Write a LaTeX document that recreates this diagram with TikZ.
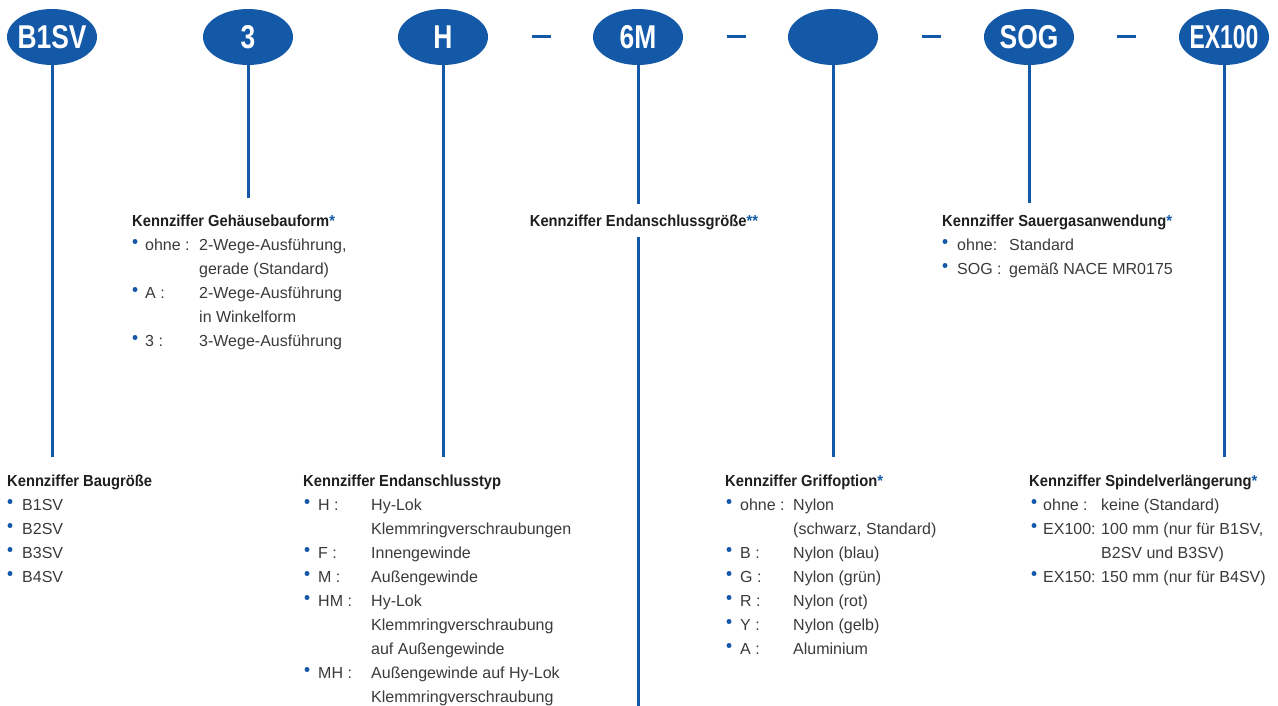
\documentclass[tikz,border=0pt]{standalone}
\usepackage{fontspec}
\setmainfont{Liberation Sans}
\newfontfamily\headfont{Liberation Sans}[FakeStretch=0.92]
\newfontfamily\codefont{Liberation Sans}[FakeStretch=0.8]
\usetikzlibrary{shapes.geometric}
\definecolor{codeblue}{HTML}{1459A8}
\definecolor{headgray}{HTML}{1E1E1E}
\definecolor{textgray}{HTML}{3A3A3A}
\newcommand{\bstar}{\textcolor{codeblue}{*}}
\newcommand{\ctext}[1]{\makebox[0pt]{#1}}

\tikzset{
  code/.style={ellipse,fill=codeblue,minimum width=90pt,minimum height=56pt,inner sep=0pt,
    text=white,font=\codefont\bfseries\fontsize{33}{33}\selectfont},
  stem/.style={codeblue,line width=3pt},
  sep/.style={codeblue,line width=3pt},
  head/.style={anchor=base west,inner sep=0pt,text=headgray,
    font=\headfont\bfseries\fontsize{16}{19}\selectfont},
  entry/.style={anchor=base west,inner sep=0pt,text=textgray,font=\fontsize{16}{19}\selectfont},
  dot/.style={circle,fill=codeblue,inner sep=0pt,minimum size=5pt},
}

\begin{document}
\begin{tikzpicture}[x=1pt,y=-1pt]
  \useasboundingbox (0,0) rectangle (1278,706);
  % code fields
  \node[code] (bau)  at (52,37)   {\ctext{B1SV}};
  \node[code] (form) at (248,37)  {\ctext{3}};
  \node[code] (typ)  at (443,37)  {\ctext{H}};
  \node[code] (size) at (638,37)  {\ctext{6M}};
  \node[code] (grip) at (833,37)  {};
  \node[code] (sog)  at (1029,37) {\ctext{SOG}};
  \node[code] (ext)  at (1224,37) {\ctext{\scalebox{0.87}[1]{EX100}}};
  \foreach \x in {541,736,931,1126}
    \draw[sep] (\x-9.5,37) -- (\x+9.5,37);

  % stems
  \coordinate (bauend)  at (52,457);
  \coordinate (formend) at (248,198);
  \coordinate (typend)  at (443,457);
  \coordinate (gripend) at (833,457);
  \coordinate (sogend)  at (1029,203);
  \coordinate (extend)  at (1224,457);
  \coordinate (sizeend) at (638,706);
  \draw[stem] (bau.south) -- (bauend);
  \draw[stem] (form.south) -- (formend);
  \draw[stem] (typ.south) -- (typend);
  \draw[stem] (grip.south) -- (gripend);
  \draw[stem] (sog.south) -- (sogend);
  \draw[stem] (ext.south) -- (extend);

  % upper blocks
  \node[head] (formhead) at (132,226) {Kennziffer Gehäusebauform\bstar};
  \foreach \y/\k/\v in {250/{ohne :}/{2-Wege-Ausführung,},274/{}/{gerade (Standard)},
      298/{A :}/{2-Wege-Ausführung},322/{}/{in Winkelform},346/{3 :}/{3-Wege-Ausführung}}{
    \node[entry] at (145,\y) {\k};
    \node[entry] at (199,\y) {\v};
  }
  \foreach \y in {250,298,346}
    \node[dot] at (135,\y-8.5) {};

  \node[head,anchor=base] (sizehead) at (644,226) {Kennziffer Endanschlussgröße\bstar\bstar};
  \draw[stem] (size.south) -- (638,204);
  \draw[stem] (638,237) -- (sizeend);

  \node[head] (soghead) at (942,226) {Kennziffer Sauergasanwendung\bstar};
  \foreach \y/\k/\v in {250/{ohne:}/{Standard},274/{SOG :}/{gemäß NACE MR0175}}{
    \node[dot] at (945,\y-8.5) {};
    \node[entry] at (957,\y) {\k};
    \node[entry] at (1009,\y) {\v};
  }

  % lower blocks
  \node[head] (bauhead) at (7,486) {Kennziffer Baugröße};
  \foreach \y/\k in {510/B1SV,534/B2SV,558/B3SV,582/B4SV}{
    \node[dot] at (10,\y-8.5) {};
    \node[entry] at (22,\y) {\k};
  }

  \node[head] (typhead) at (303,486) {Kennziffer Endanschlusstyp};
  \foreach \y/\k/\v in {510/{H :}/{Hy-Lok},534/{}/{Klemmringverschraubungen},
      558/{F :}/{Innengewinde},582/{M :}/{Außengewinde},606/{HM :}/{Hy-Lok},
      630/{}/{Klemmringverschraubung},654/{}/{auf Außengewinde},
      678/{MH :}/{Außengewinde auf Hy-Lok},702/{}/{Klemmringverschraubung}}{
    \node[entry] at (318,\y) {\k};
    \node[entry] at (371,\y) {\v};
  }
  \foreach \y in {510,558,582,606,678}
    \node[dot] at (307,\y-8.5) {};

  \node[head] (griphead) at (725,486) {Kennziffer Griffoption\bstar};
  \foreach \y/\k/\v in {510/{ohne :}/{Nylon},534/{}/{(schwarz, Standard)},
      558/{B :}/{Nylon (blau)},582/{G :}/{Nylon (grün)},606/{R :}/{Nylon (rot)},
      630/{Y :}/{Nylon (gelb)},654/{A :}/{Aluminium}}{
    \node[entry] at (740,\y) {\k};
    \node[entry] at (793,\y) {\v};
  }
  \foreach \y in {510,558,582,606,630,654}
    \node[dot] at (729,\y-8.5) {};

  \node[head] (exthead) at (1029,486) {Kennziffer Spindelverlängerung\bstar};
  \foreach \y/\k/\v in {510/{ohne :}/{keine (Standard)},534/{EX100:}/{100 mm (nur für B1SV,},
      558/{}/{B2SV und B3SV)},582/{EX150:}/{150 mm (nur für B4SV)}}{
    \node[entry] at (1043,\y) {\k};
    \node[entry] at (1101,\y) {\v};
  }
  \foreach \y in {510,534,582}
    \node[dot] at (1034,\y-8.5) {};
\end{tikzpicture}
\end{document}
